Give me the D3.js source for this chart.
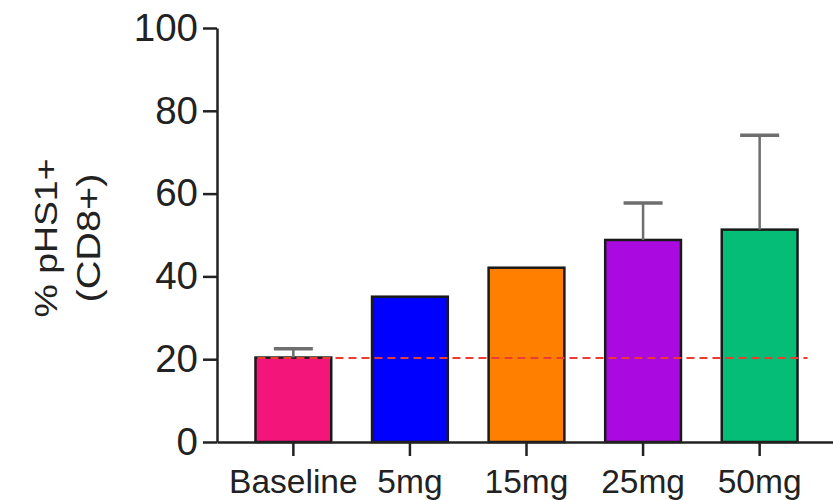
<!DOCTYPE html>
<html>
<head>
<meta charset="utf-8">
<script src="https://cdn.jsdelivr.net/npm/d3@7"></script>
<style>
  html, body { margin: 0; padding: 0; background: #fff; }
  svg { display: block; }
  text { font-family: "Liberation Sans", Arial, Helvetica, sans-serif; fill: #222; }
</style>
</head>
<body>
<svg id="chart" width="833" height="500"></svg>
<script>
const categories = ["Baseline", "5mg", "15mg", "25mg", "50mg"];
const means = [20.4, 35.1, 42.1, 48.8, 51.3];
const errorsUp = [2.1, null, null, 8.9, 22.8];
const colors = ["#F4157B", "#0000FF", "#FF8000", "#AA0ADF", "#06BD78"];
const yTicks = [0, 20, 40, 60, 80, 100];
const yLabelLines = ["% pHS1+", "(CD8+)"];

const svg = d3.select("#chart");

const x = d3.scaleBand()
  .domain(categories)
  .range([217, 836])
  .paddingInner(0.35)
  .paddingOuter(0.33);

const y = d3.scaleLinear().domain([0, 100]).range([442, 28]);

const data = categories.map((c, i) => ({ cat: c, mean: means[i], err: errorsUp[i], color: colors[i] }));

// bars
svg.append("g").selectAll("rect")
  .data(data).join("rect")
  .attr("x", d => x(d.cat))
  .attr("y", d => y(d.mean))
  .attr("width", x.bandwidth())
  .attr("height", d => y(0) - y(d.mean))
  .attr("fill", d => d.color)
  .attr("stroke", "#1a1a1a")
  .attr("stroke-width", 2.5);

// error bars (upper only)
const eb = svg.append("g").selectAll("g")
  .data(data.filter(d => d.err != null)).join("g");
eb.append("line")
  .attr("x1", d => x(d.cat) + x.bandwidth() / 2)
  .attr("x2", d => x(d.cat) + x.bandwidth() / 2)
  .attr("y1", d => y(d.mean))
  .attr("y2", d => y(d.mean + d.err))
  .attr("stroke", "#6e6e6e").attr("stroke-width", 2.5);
eb.append("line")
  .attr("x1", d => x(d.cat) + x.bandwidth() / 2 - 19.5)
  .attr("x2", d => x(d.cat) + x.bandwidth() / 2 + 19.5)
  .attr("y1", d => y(d.mean + d.err))
  .attr("y2", d => y(d.mean + d.err))
  .attr("stroke", "#6e6e6e").attr("stroke-width", 3.5);

// reference dashed line at baseline mean
svg.append("line")
  .attr("x1", x(categories[0]) + 2)
  .attr("x2", x(categories[categories.length - 1]) + x.bandwidth() + 10)
  .attr("y1", y(means[0]) + 0.5)
  .attr("y2", y(means[0]) + 0.5)
  .attr("stroke", "#EC3C30")
  .attr("stroke-width", 2)
  .attr("stroke-dasharray", "8,5");

// y axis
const yAxis = svg.append("g")
  .attr("transform", "translate(217,0)")
  .call(d3.axisLeft(y).tickValues(yTicks).tickSize(14).tickSizeOuter(0).tickPadding(5));
yAxis.selectAll("path, line").attr("stroke", "#222").attr("stroke-width", 2.5);
yAxis.selectAll("text").attr("font-size", "38.5px").attr("fill", "#222")
  .attr("font-family", "'Liberation Sans', Arial, sans-serif");

// x axis
const xAxis = svg.append("g")
  .attr("transform", "translate(0,442)")
  .call(d3.axisBottom(x).tickSize(14).tickSizeOuter(0).tickPadding(13));
xAxis.selectAll("path, line").attr("stroke", "#222").attr("stroke-width", 2.5);
xAxis.selectAll("text").attr("font-size", "33.5px").attr("fill", "#222")
  .attr("font-family", "'Liberation Sans', Arial, sans-serif");

// y label (two lines, rotated)
const yMid = (y(0) + y(100)) / 2 + 3;
svg.append("text")
  .attr("transform", `translate(57,${yMid}) rotate(-90)`)
  .attr("text-anchor", "middle")
  .attr("font-size", "31px")
  .attr("textLength", 159)
  .attr("lengthAdjust", "spacingAndGlyphs")
  .text(yLabelLines[0]);
svg.append("text")
  .attr("transform", `translate(100,${yMid}) rotate(-90)`)
  .attr("text-anchor", "middle")
  .attr("font-size", "34px")
  .attr("textLength", 129)
  .attr("lengthAdjust", "spacingAndGlyphs")
  .text(yLabelLines[1]);
</script>
</body>
</html>
